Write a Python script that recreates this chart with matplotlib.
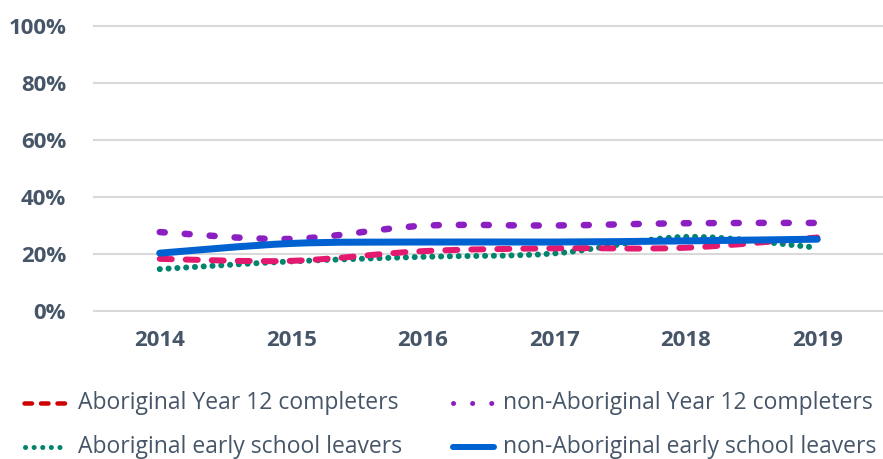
import matplotlib
matplotlib.use("Agg")
import matplotlib.pyplot as plt
import numpy as np
from matplotlib.lines import Line2D
from matplotlib.path import Path
from matplotlib.patches import PathPatch
from matplotlib.ticker import FuncFormatter

years = ["2014", "2015", "2016", "2017", "2018", "2019"]
abor_y12 = [18.3, 17.6, 21.0, 22.0, 22.2, 25.8]
non_abor_y12 = [27.7, 25.3, 29.9, 30.0, 30.8, 30.9]
abor_early = [14.7, 17.4, 19.0, 20.2, 26.0, 22.2]
non_abor_early = [20.3, 23.7, 24.2, 24.2, 24.6, 25.2]

TEXT = "#465668"
GRID = "#d9d9d9"
PX = 0.72  # points per pixel at dpi 100

plt.rcParams["font.family"] = ["Open Sans", "DejaVu Sans"]
plt.rcParams["lines.scale_dashes"] = False


def smooth_path(xs, ys):
    """Catmull-Rom -> cubic Bezier, like Excel's smoothed line."""
    pts = np.column_stack([xs, ys]).astype(float)
    ext = np.vstack([pts[0], pts, pts[-1]])
    verts = [pts[0]]
    codes = [Path.MOVETO]
    for i in range(len(pts) - 1):
        p0, p1, p2, p3 = ext[i], ext[i + 1], ext[i + 2], ext[i + 3]
        verts += [p1 + (p2 - p0) / 6, p2 - (p3 - p1) / 6, p2]
        codes += [Path.CURVE4] * 3
    return Path(verts, codes)


series = [
    # (values, colour, linewidth px, dash pattern in px or None)
    (abor_early, "#00846f", 6.0, (0.1, 8.7)),
    (abor_y12, "#e3186f", 6.0, (12.0, 14.0)),
    (non_abor_y12, "#8c1fc2", 6.5, (5.0, 20.0)),
    (non_abor_early, "#0062d1", 7.0, None),
]

fig = plt.figure(figsize=(8.83, 4.59), dpi=100)
ax = fig.add_axes([94 / 883, 1 - 311 / 459, 1 - 94 / 883, 285 / 459])
x = np.arange(len(years))

for vals, col, lw, dash in series:
    ls = "solid" if dash is None else (0, (dash[0] * PX, dash[1] * PX))
    patch = PathPatch(smooth_path(x, np.array(vals) / 100), fill=False,
                      edgecolor=col, linewidth=lw * PX, linestyle=ls,
                      capstyle="round", joinstyle="round", zorder=3)
    ax.add_patch(patch)

ax.set_xlim(-0.5, len(years) - 0.5)
ax.set_ylim(0, 1)
ax.set_yticks(np.arange(0, 1.01, 0.2))
ax.yaxis.set_major_formatter(FuncFormatter(lambda v, _: f"{v * 100:.0f}%"))
ax.set_xticks(x)
ax.set_xticklabels(years)
ax.grid(axis="y", color=GRID, linewidth=1.5)
for gl in ax.get_ygridlines():
    gl.set_clip_on(False)
for s in ax.spines.values():
    s.set_visible(False)
ax.tick_params(length=0, labelsize=16, labelcolor=TEXT)
ax.tick_params(axis="y", pad=20)
ax.tick_params(axis="x", pad=14)
for lab in ax.get_xticklabels() + ax.get_yticklabels():
    lab.set_fontweight("bold")

# legend, drawn by hand to match the layout
legend_items = [
    ("Aboriginal Year 12 completers", 22, 70, 403, "#cc0000", 4.5, (7.5, 9.0), 78),
    ("non-Aboriginal Year 12 completers", 450, 497, 403, "#8c1fc2", 5.0, (0.1, 19.0), 503),
    ("Aboriginal early school leavers", 22, 70, 447, "#00846f", 5.0, (0.1, 8.5), 78),
    ("non-Aboriginal early school leavers", 450, 497, 447, "#0062d1", 6.0, None, 503),
]
for label, x0, x1, yp, col, lw, dash, tx in legend_items:
    ls = "solid" if dash is None else (0, (dash[0] * PX, dash[1] * PX))
    yf = 1 - yp / 459
    fig.add_artist(Line2D([(x0 + lw / 2) / 883, (x1 - lw / 2) / 883], [yf, yf],
                          transform=fig.transFigure,
                          color=col, linewidth=lw * PX, linestyle=ls,
                          solid_capstyle="round", dash_capstyle="round"))
    fig.text(tx / 883, yf, label, fontsize=16.5, color=TEXT, va="center", ha="left")

fig.savefig("out.png", dpi=100)
